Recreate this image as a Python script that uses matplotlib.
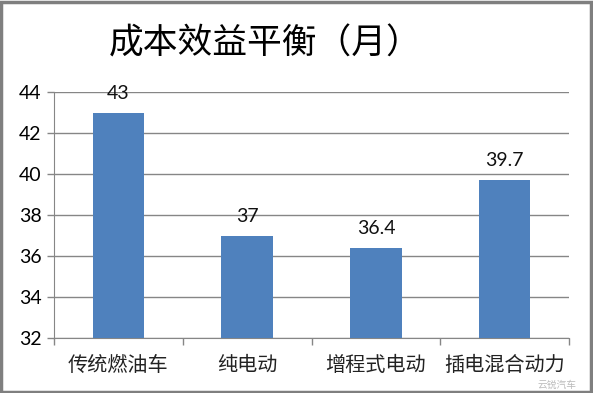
import matplotlib
matplotlib.use("Agg")
import matplotlib.pyplot as plt
from matplotlib.patches import Rectangle

plt.rcParams['font.family'] = ['Noto Sans CJK SC', 'DejaVu Sans']

# data
categories = ['传统燃油车', '纯电动', '增程式电动', '插电混合动力']
months = [43, 37, 36.4, 39.7]
value_labels = ['43', '37', '36.4', '39.7']
yticks = [32, 34, 36, 38, 40, 42, 44]

bar_color = '#4F81BD'
grid_color = '#868686'

fig = plt.figure(figsize=(5.93, 3.93), dpi=100)
ax = fig.add_axes([54/593, 55/393, 515/593, 246/393])

x = list(range(len(categories)))
bars = ax.bar(x, [m - 32 for m in months], bottom=32, width=0.4, color=bar_color, zorder=3)

ax.set_xlim(-0.5, len(categories) - 0.5)
ax.set_ylim(32, 44)
ax.set_yticks(yticks)
ax.set_yticklabels([str(t) for t in yticks], family=['Lato', 'DejaVu Sans'], fontsize=14)
ax.yaxis.grid(True, color=grid_color, linewidth=1, zorder=0)
ax.tick_params(axis='y', length=5, color=grid_color, width=1, pad=4)

# category boundaries as x ticks, labels placed at centers
ax.set_xticks([i - 0.5 for i in range(len(categories) + 1)])
ax.set_xticklabels([])
ax.tick_params(axis='x', length=5, color=grid_color, width=1)
for i, c in enumerate(categories):
    ax.text(i, -0.11, c, transform=ax.get_xaxis_transform(), ha='center', va='center',
            fontsize=14.5, color='#222222')

for s in ['top', 'right']:
    ax.spines[s].set_visible(False)
ax.spines['left'].set_color(grid_color)
ax.spines['bottom'].set_color(grid_color)

for b, lab in zip(bars, value_labels):
    ax.annotate(lab, (b.get_x() + b.get_width() / 2, b.get_y() + b.get_height()),
                xytext=(0, 14), textcoords='offset points', ha='center', va='center',
                fontsize=14, family=['Lato', 'DejaVu Sans'], color='#111111')

fig.text(0.447, 0.888, '成本效益平衡（月）', ha='center', va='center', fontsize=25, color='black')

# watermark
fig.text(0.94, 0.022, '云锐汽车', ha='center', va='center', fontsize=7, color='#aaaaaa', alpha=0.8)

# outer frame
fig.patches.append(Rectangle((0.002, 0.003), 0.994, 0.993, transform=fig.transFigure,
                             fill=False, edgecolor='#7F7F7F', linewidth=2.5))

fig.savefig('out.png', dpi=100)
